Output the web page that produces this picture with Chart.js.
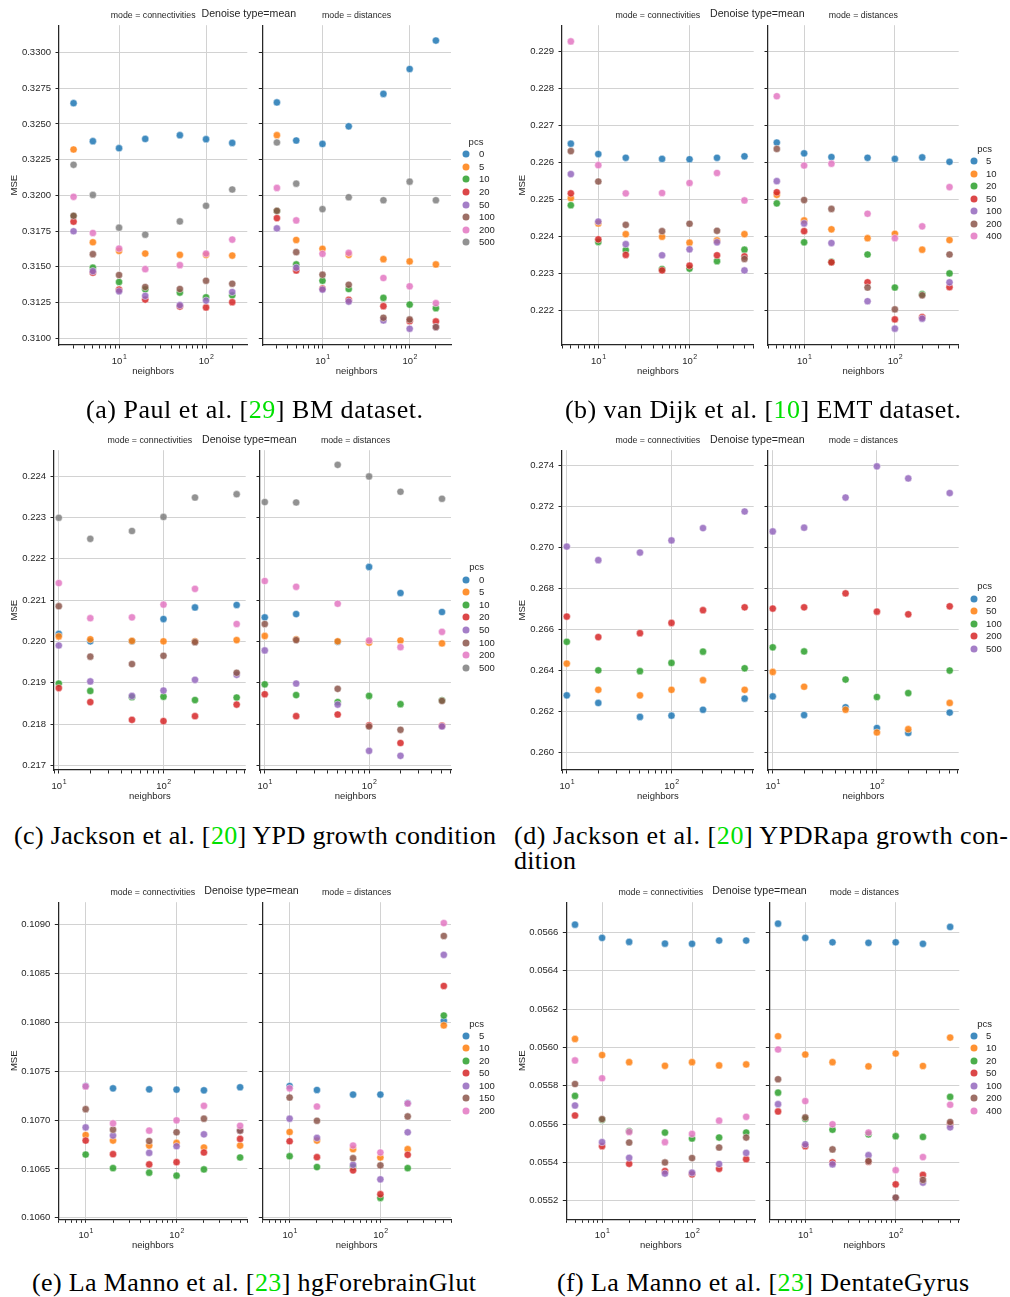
<!DOCTYPE html>
<html>
<head>
<meta charset="utf-8">
<script src="https://cdn.jsdelivr.net/npm/chart.js@4.4.1/dist/chart.umd.min.js"></script>
<style>
  body { margin: 0; background: #fff; width: 1010px; height: 1297px; position: relative; overflow: hidden;
         font-family: 'Liberation Sans', Arial, sans-serif; color: #262626; }
  canvas { position: absolute; }
  .t { position: absolute; white-space: nowrap; line-height: 1; transform: translate(-50%, -50%); }
  .l { position: absolute; white-space: nowrap; line-height: 1; transform: translate(0, -50%); }
  .dot { position: absolute; border-radius: 50%; width: 7px; height: 7px; transform: translate(-50%, -50%); }
  .cap { position: absolute; white-space: nowrap; line-height: 1; color: #000;
         font-family: 'Liberation Serif', 'Times New Roman', serif; font-size: 26px; transform: translate(0, -50%); }
  .cite { color: #00e000; }
</style>
</head>
<body>
<script>
// ---- (a) BM dataset ----
const bmNeighbors = [3, 5, 10, 20, 50, 100, 200];
const bmPcs = ['0', '5', '10', '20', '50', '100', '200', '500'];
const bmConn = [
  [0.32645, 0.32379, 0.32330, 0.32395, 0.32421, 0.32393, 0.32367],
  [0.32321, 0.31672, 0.31612, 0.31593, 0.31584, 0.31584, 0.31579],
  [0.31855, 0.31494, 0.31394, 0.31343, 0.31320, 0.31287, 0.31301],
  [0.31816, 0.31459, 0.31341, 0.31271, 0.31222, 0.31216, 0.31253],
  [0.31749, 0.31470, 0.31329, 0.31297, 0.31232, 0.31264, 0.31324],
  [0.31857, 0.31589, 0.31443, 0.31359, 0.31345, 0.31403, 0.31382],
  [0.31990, 0.31737, 0.31628, 0.31484, 0.31512, 0.31593, 0.31691],
  [0.32214, 0.32003, 0.31774, 0.31725, 0.31818, 0.31927, 0.32041]
];
const bmDist = [
  [0.32650, 0.32384, 0.32360, 0.32483, 0.32710, 0.32884, 0.33083],
  [0.32421, 0.31688, 0.31626, 0.31584, 0.31554, 0.31538, 0.31517],
  [0.31890, 0.31517, 0.31403, 0.31345, 0.31283, 0.31236, 0.31211],
  [0.31841, 0.31475, 0.31348, 0.31269, 0.31225, 0.31120, 0.31118],
  [0.31769, 0.31494, 0.31341, 0.31257, 0.31125, 0.31067, 0.31078],
  [0.31892, 0.31603, 0.31445, 0.31375, 0.31144, 0.31132, 0.31079],
  [0.32052, 0.31825, 0.31591, 0.31598, 0.31422, 0.31364, 0.31246],
  [0.32370, 0.32082, 0.31904, 0.31987, 0.31966, 0.32096, 0.31966]
];
const bmTicks = [0.3100, 0.3125, 0.3150, 0.3175, 0.3200, 0.3225, 0.3250, 0.3275, 0.3300];

// ---- (b) EMT dataset ----
const emtNeighbors = [5, 10, 20, 50, 100, 200, 400];
const emtPcs = ['5', '10', '20', '50', '100', '200', '400'];
const emtConn = [
  [0.22650, 0.22622, 0.22612, 0.22609, 0.22608, 0.22612, 0.22616],
  [0.22503, 0.22435, 0.22406, 0.22399, 0.22383, 0.22389, 0.22406],
  [0.22484, 0.22385, 0.22363, 0.22312, 0.22313, 0.22333, 0.22364],
  [0.22516, 0.22392, 0.22350, 0.22308, 0.22321, 0.22349, 0.22346],
  [0.22568, 0.22440, 0.22379, 0.22349, 0.22365, 0.22384, 0.22308],
  [0.22630, 0.22548, 0.22431, 0.22414, 0.22434, 0.22415, 0.22339],
  [0.22926, 0.22592, 0.22516, 0.22517, 0.22544, 0.22571, 0.22497]
];
const emtDist = [
  [0.22653, 0.22624, 0.22614, 0.22612, 0.22609, 0.22613, 0.22601],
  [0.22512, 0.22443, 0.22419, 0.22395, 0.22407, 0.22364, 0.22390],
  [0.22489, 0.22384, 0.22331, 0.22351, 0.22262, 0.22244, 0.22300],
  [0.22519, 0.22414, 0.22330, 0.22276, 0.22176, 0.22182, 0.22263],
  [0.22549, 0.22435, 0.22382, 0.22225, 0.22151, 0.22178, 0.22276],
  [0.22636, 0.22498, 0.22474, 0.22262, 0.22203, 0.22241, 0.22351],
  [0.22778, 0.22591, 0.22596, 0.22461, 0.22395, 0.22427, 0.22533]
];
const emtTicks = [0.222, 0.223, 0.224, 0.225, 0.226, 0.227, 0.228, 0.229];

// ---- (c) YPD growth condition ----
const ypdNeighbors = [10, 20, 50, 100, 200, 500];
const ypdPcs = ['0', '5', '10', '20', '50', '100', '200', '500'];
const ypdConn = [
  [0.22018, 0.22000, 0.22000, 0.22054, 0.22082, 0.22088],
  [0.22012, 0.22005, 0.22001, 0.22000, 0.22000, 0.22003],
  [0.21898, 0.21880, 0.21865, 0.21866, 0.21858, 0.21864],
  [0.21887, 0.21853, 0.21810, 0.21807, 0.21819, 0.21847],
  [0.21990, 0.21903, 0.21868, 0.21881, 0.21907, 0.21919],
  [0.22085, 0.21963, 0.21945, 0.21965, 0.21998, 0.21924],
  [0.22141, 0.22056, 0.22058, 0.22089, 0.22127, 0.22042],
  [0.22299, 0.22248, 0.22267, 0.22301, 0.22348, 0.22356]
];
const ypdDist = [
  [0.22058, 0.22066, 0.21999, 0.22180, 0.22117, 0.22071],
  [0.22013, 0.22005, 0.22000, 0.21997, 0.22002, 0.21995],
  [0.21896, 0.21870, 0.21853, 0.21868, 0.21848, 0.21857],
  [0.21872, 0.21819, 0.21823, 0.21797, 0.21754, 0.21796],
  [0.21978, 0.21898, 0.21847, 0.21735, 0.21723, 0.21794],
  [0.22042, 0.22003, 0.21885, 0.21794, 0.21786, 0.21856],
  [0.22146, 0.22132, 0.22091, 0.22002, 0.21986, 0.22023],
  [0.22337, 0.22336, 0.22427, 0.22399, 0.22362, 0.22345]
];
const ypdTicks = [0.217, 0.218, 0.219, 0.220, 0.221, 0.222, 0.223, 0.224];

// ---- (d) YPDRapa growth condition ----
const rapaNeighbors = [10, 20, 50, 100, 200, 500];
const rapaPcs = ['20', '50', '100', '200', '500'];
const rapaConn = [
  [0.26278, 0.26241, 0.26173, 0.26179, 0.26208, 0.26262],
  [0.26433, 0.26305, 0.26278, 0.26305, 0.26352, 0.26305],
  [0.26539, 0.26400, 0.26396, 0.26436, 0.26491, 0.26410],
  [0.26662, 0.26562, 0.26581, 0.26631, 0.26693, 0.26707],
  [0.27003, 0.26937, 0.26974, 0.27033, 0.27093, 0.27174]
];
const rapaDist = [
  [0.26273, 0.26182, 0.26220, 0.26119, 0.26095, 0.26194],
  [0.26392, 0.26320, 0.26208, 0.26097, 0.26113, 0.26241],
  [0.26512, 0.26492, 0.26355, 0.26270, 0.26289, 0.26399],
  [0.26701, 0.26707, 0.26775, 0.26686, 0.26673, 0.26712],
  [0.27077, 0.27095, 0.27242, 0.27394, 0.27335, 0.27264]
];
const rapaTicks = [0.260, 0.262, 0.264, 0.266, 0.268, 0.270, 0.272, 0.274];

// ---- (e) hgForebrainGlut ----
const glutNeighbors = [10, 20, 50, 100, 200, 500];
const glutPcs = ['5', '10', '20', '50', '100', '150', '200'];
const glutConn = [
  [0.107349, 0.107325, 0.107315, 0.107312, 0.107305, 0.107336],
  [0.106847, 0.106790, 0.106739, 0.106766, 0.106719, 0.106739],
  [0.106647, 0.106508, 0.106461, 0.106431, 0.106495, 0.106617],
  [0.106790, 0.106651, 0.106546, 0.106569, 0.106668, 0.106807],
  [0.106925, 0.106841, 0.106664, 0.106732, 0.106854, 0.106890],
  [0.107112, 0.106902, 0.106786, 0.106875, 0.107014, 0.106892],
  [0.107345, 0.106966, 0.106892, 0.106997, 0.107146, 0.106942]
];
const glutDist = [
  [0.107349, 0.107308, 0.107261, 0.107261, 0.107173, 0.108017],
  [0.106878, 0.106790, 0.106702, 0.106617, 0.106702, 0.107969],
  [0.106630, 0.106519, 0.106519, 0.106203, 0.106508, 0.108071],
  [0.106783, 0.106620, 0.106485, 0.106241, 0.106644, 0.108373],
  [0.107014, 0.106817, 0.106542, 0.106393, 0.106875, 0.108692],
  [0.107231, 0.106993, 0.106610, 0.106536, 0.107037, 0.108885],
  [0.107325, 0.107139, 0.106739, 0.106668, 0.107170, 0.109017]
];
const glutTicks = [0.1060, 0.1065, 0.1070, 0.1075, 0.1080, 0.1085, 0.1090];

// ---- (f) DentateGyrus ----
const dgNeighbors = [5, 10, 20, 50, 100, 200, 400];
const dgPcs = ['5', '10', '20', '50', '100', '200', '400'];
const dgConn = [
  [0.056640, 0.056571, 0.056550, 0.056541, 0.056540, 0.056557, 0.056557],
  [0.056044, 0.055960, 0.055923, 0.055904, 0.055923, 0.055906, 0.055911],
  [0.055747, 0.055623, 0.055564, 0.055556, 0.055525, 0.055530, 0.055556],
  [0.055645, 0.055485, 0.055393, 0.055355, 0.055338, 0.055367, 0.055417],
  [0.055697, 0.055506, 0.055424, 0.055342, 0.055347, 0.055392, 0.055450],
  [0.055809, 0.055626, 0.055504, 0.055400, 0.055423, 0.055478, 0.055530],
  [0.055932, 0.055839, 0.055559, 0.055506, 0.055549, 0.055618, 0.055638]
];
const dgDist = [
  [0.056645, 0.056571, 0.056548, 0.056545, 0.056548, 0.056540, 0.056628],
  [0.056058, 0.055963, 0.055923, 0.055901, 0.055968, 0.055903, 0.056051],
  [0.055764, 0.055628, 0.055571, 0.055547, 0.055537, 0.055533, 0.055742],
  [0.055666, 0.055485, 0.055400, 0.055404, 0.055286, 0.055335, 0.055600],
  [0.055704, 0.055495, 0.055390, 0.055438, 0.055216, 0.055295, 0.055583],
  [0.055834, 0.055635, 0.055468, 0.055407, 0.055217, 0.055309, 0.055611],
  [0.055989, 0.055720, 0.055599, 0.055556, 0.055360, 0.055428, 0.055701]
];
const dgTicks = [0.0552, 0.0554, 0.0556, 0.0558, 0.0560, 0.0562, 0.0564, 0.0566];

// decade labels on the x axis: base and exponent
const decades = [10, 100];
const decadeExp = ['1', '2'];

const tab10 = ['#1f77b4', '#ff7f0e', '#2ca02c', '#d62728', '#9467bd', '#8c564b', '#e377c2', '#7f7f7f'];
const ink = '#262626';
const sans = "'Liberation Sans', Arial, sans-serif";

function rgba(hex, a) {
  const n = parseInt(hex.slice(1), 16);
  return `rgba(${n >> 16},${(n >> 8) & 255},${n & 255},${a})`;
}

// 1..9 x 10^k inside [min, max] for the log axis tick marks
function logTicks(min, max) {
  const out = [];
  for (let e = -1; e < 4; e++) {
    for (let m = 1; m < 10; m++) {
      const v = m * Math.pow(10, e);
      if (v >= min && v <= max) out.push(v);
    }
  }
  return out;
}

// draws "10" with a raised exponent under each decade tick
const decadeLabels = {
  id: 'decadeLabels',
  afterDraw(chart) {
    const s = chart.scales.x;
    const ctx = chart.ctx;
    ctx.save();
    ctx.fillStyle = ink;
    ctx.textBaseline = 'middle';
    ctx.textAlign = 'left';
    decades.forEach((v, k) => {
      const gx = s.getPixelForValue(v);
      ctx.font = `9.5px ${sans}`;
      const wBase = ctx.measureText('10').width;
      ctx.font = `7px ${sans}`;
      const wExp = ctx.measureText(decadeExp[k]).width;
      const start = gx - (wBase + wExp) / 2;
      ctx.font = `9.5px ${sans}`;
      ctx.fillText('10', start, s.top + 16.5);
      ctx.font = `7px ${sans}`;
      ctx.fillText(decadeExp[k], start + wBase + 0.5, s.top + 12);
    });
    ctx.restore();
  }
};

// subplot geometry: axes boxes, title rows, legend placement
const figs = [
  { neighbors: bmNeighbors, pcs: bmPcs, conn: bmConn, dist: bmDist, yTicks: bmTicks, dec: 4,
    yMin: 0.309534, yMax: 0.331905, xMin: 2.04, xMax: 298,
    L1: 59, R1: 247.3, L2: 262.3, R2: 451, T: 23.3, B: 345, mseX: 15, nbY: 371.7, modeY: 15,
    denX: 248.8, denY: 13.3, leg: { tx: 476, ty: 142, dx: 465.7, lx: 479, y0: 154.3, step: 12.57 } },
  { neighbors: emtNeighbors, pcs: emtPcs, conn: emtConn, dist: emtDist, yTicks: emtTicks, dec: 3,
    yMin: 0.221069, yMax: 0.229697, xMin: 4.0, xMax: 505,
    L1: 562, R1: 753.7, L2: 768, R2: 958.7, T: 23.3, B: 345, mseX: 523, nbY: 371.7, modeY: 15,
    denX: 757.3, denY: 13.3, leg: { tx: 984.7, ty: 149, dx: 973.7, lx: 986, y0: 161, step: 12.5 } },
  { neighbors: ypdNeighbors, pcs: ypdPcs, conn: ypdConn, dist: ypdDist, yTicks: ypdTicks, dec: 3,
    yMin: 0.216887, yMax: 0.224625, xMin: 9.0, xMax: 610,
    L1: 54, R1: 245.7, L2: 260, R2: 451, T: 448.3, B: 770, mseX: 15, nbY: 796.7, modeY: 440.3,
    denX: 249.3, denY: 439, leg: { tx: 476.7, ty: 566.7, dx: 465.7, lx: 479, y0: 579.7, step: 12.57 } },
  { neighbors: rapaNeighbors, pcs: rapaPcs, conn: rapaConn, dist: rapaDist, yTicks: rapaTicks, dec: 3,
    yMin: 0.259143, yMax: 0.274727, xMin: 9.0, xMax: 610,
    L1: 562, R1: 753.7, L2: 768, R2: 958.7, T: 448.3, B: 770, mseX: 523, nbY: 796.7, modeY: 440.3,
    denX: 757.3, denY: 439, leg: { tx: 984.7, ty: 585.7, dx: 973.7, lx: 986, y0: 598.7, step: 12.58 } },
  { neighbors: glutNeighbors, pcs: glutPcs, conn: glutConn, dist: glutDist, yTicks: glutTicks, dec: 4,
    yMin: 0.105984, yMax: 0.109231, xMin: 5.0, xMax: 600,
    L1: 58.3, R1: 247.3, L2: 262.3, R2: 451, T: 900, B: 1219.3, mseX: 15, nbY: 1245, modeY: 892.3,
    denX: 251.5, denY: 890.3, leg: { tx: 476.7, ty: 1024, dx: 465.7, lx: 479, y0: 1036, step: 12.44 } },
  { neighbors: dgNeighbors, pcs: dgPcs, conn: dgConn, dist: dgDist, yTicks: dgTicks, dec: 4,
    yMin: 0.0551037, yMax: 0.056757, xMin: 4.0, xMax: 505,
    L1: 566.3, R1: 755.3, L2: 769.3, R2: 959.3, T: 900, B: 1219.3, mseX: 523, nbY: 1245, modeY: 892.3,
    denX: 759.5, denY: 890.3, leg: { tx: 984.7, ty: 1024, dx: 973.7, lx: 986, y0: 1036, step: 12.44 } }
];

const tickFont = { family: sans, size: 9.5 };

function text(cls, str, x, y, size) {
  const d = document.createElement('div');
  d.className = cls;
  d.textContent = str;
  d.style.left = x + 'px';
  d.style.top = y + 'px';
  d.style.fontSize = size + 'px';
  document.body.appendChild(d);
  return d;
}

function drawPanel(fig, rows, left, right, first) {
  const x0 = Math.round(first ? fig.mseX - 5.7 : left - 8);
  const y0 = Math.round(fig.T - 8);
  const x1 = Math.round(right + 8);
  const y1 = Math.round(fig.nbY + 5.7);
  const cv = document.createElement('canvas');
  cv.width = x1 - x0;
  cv.height = y1 - y0;
  cv.style.left = x0 + 'px';
  cv.style.top = y0 + 'px';
  document.body.appendChild(cv);

  const xTicks = logTicks(fig.xMin, fig.xMax);
  const datasets = rows.map((row, i) => ({
    label: fig.pcs[i],
    data: fig.neighbors.map((n, j) => ({ x: n, y: row[j] })),
    backgroundColor: rgba(tab10[i], 0.85),
    borderColor: 'rgba(255,255,255,0.75)',
    borderWidth: 0.6,
    pointRadius: 3.6,
    order: -i
  }));

  new Chart(cv, {
    type: 'scatter',
    data: { datasets },
    plugins: [decadeLabels],
    options: {
      responsive: false,
      animation: false,
      events: [],
      layout: { padding: { left: 0, top: fig.T - y0, right: x1 - right, bottom: 0 } },
      plugins: { legend: { display: false }, tooltip: { enabled: false } },
      scales: {
        x: {
          type: 'logarithmic',
          min: fig.xMin,
          max: fig.xMax,
          afterBuildTicks: s => { s.ticks = xTicks.map(v => ({ value: v })); },
          afterFit: s => { s.height = y1 - fig.B; },
          ticks: { autoSkip: false, maxRotation: 0, minRotation: 0, font: tickFont, callback: () => '' },
          grid: {
            color: c => (c.tick && decades.includes(c.tick.value)) ? '#d2d2d2' : 'rgba(0,0,0,0)',
            lineWidth: 1,
            tickColor: ink,
            tickLength: 3.5
          },
          border: { display: true, color: ink, width: 1.25 },
          title: { display: true, text: 'neighbors', padding: 0, font: tickFont, color: ink }
        },
        y: {
          type: 'linear',
          min: fig.yMin,
          max: fig.yMax,
          afterBuildTicks: s => { s.ticks = fig.yTicks.map(v => ({ value: v })); },
          afterFit: s => { s.width = left - x0; },
          ticks: {
            padding: 4.5, font: tickFont, color: ink,
            callback: v => (first ? v.toFixed(fig.dec) : '')
          },
          grid: { color: '#d2d2d2', lineWidth: 1, tickColor: ink, tickLength: 3.5 },
          border: { display: true, color: ink, width: 1.25 },
          title: { display: first, text: 'MSE', padding: 0, font: tickFont, color: ink }
        }
      }
    }
  });
}

figs.forEach(fig => {
  drawPanel(fig, fig.conn, fig.L1, fig.R1, true);
  drawPanel(fig, fig.dist, fig.L2, fig.R2, false);

  text('t', 'mode = connectivities', (fig.L1 + fig.R1) / 2, fig.modeY, 8.8);
  text('t', 'mode = distances', (fig.L2 + fig.R2) / 2, fig.modeY, 8.8);
  text('t', 'Denoise type=mean', fig.denX, fig.denY, 10.6);

  const lg = fig.leg;
  text('t', 'pcs', lg.tx, lg.ty, 9.5);
  fig.pcs.forEach((p, i) => {
    const y = lg.y0 + i * lg.step;
    const d = document.createElement('div');
    d.className = 'dot';
    d.style.left = lg.dx + 'px';
    d.style.top = y + 'px';
    d.style.background = rgba(tab10[i], 0.85);
    document.body.appendChild(d);
    text('l', p, lg.lx, y, 9.5);
  });
});

// sub-captions; each line is stretched to the width it spans in the figure
const captions = [
  { parts: ['(a) Paul et al. [', '29', '] BM dataset.'], x0: 86, x1: 423, y: 410 },
  { parts: ['(b) van Dijk et al. [', '10', '] EMT dataset.'], x0: 565, x1: 961, y: 410 },
  { parts: ['(c) Jackson et al. [', '20', '] YPD growth condition'], x0: 14, x1: 496, y: 836 },
  { parts: ['(d) Jackson et al. [', '20', '] YPDRapa growth con-'], x0: 514, x1: 1008, y: 836 },
  { parts: ['dition'], x0: 514, x1: 576, y: 861 },
  { parts: ['(e) La Manno et al. [', '23', '] hgForebrainGlut'], x0: 32, x1: 476, y: 1283 },
  { parts: ['(f) La Manno et al. [', '23', '] DentateGyrus'], x0: 557, x1: 969, y: 1283 }
];
captions.forEach(c => {
  const d = document.createElement('div');
  d.className = 'cap';
  d.style.left = c.x0 + 'px';
  d.style.top = c.y + 'px';
  c.parts.forEach((p, i) => {
    const s = document.createElement('span');
    s.textContent = p;
    if (i === 1) s.className = 'cite';
    d.appendChild(s);
  });
  document.body.appendChild(d);
  const w = d.getBoundingClientRect().width;
  const n = c.parts.join('').length - 1;
  d.style.letterSpacing = ((c.x1 - c.x0 - w) / n) + 'px';
});
</script>
</body>
</html>
